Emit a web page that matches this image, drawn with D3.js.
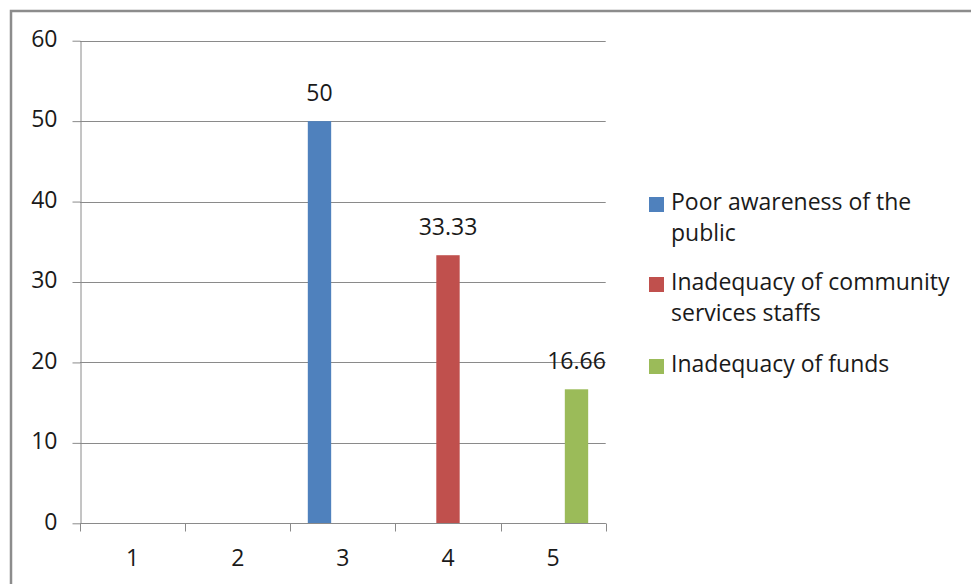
<!DOCTYPE html>
<html>
<head>
<meta charset="utf-8">
<script src="https://cdn.jsdelivr.net/npm/d3@7"></script>
<style>
  html, body { margin: 0; padding: 0; background: #fff; }
  svg { display: block; }
  text { font-family: "Open Sans", "Noto Sans", sans-serif; fill: #1a1a1a; }
</style>
</head>
<body>
<svg id="chart" width="971" height="584"></svg>
<script>
// Category labels on the x axis
const categories = ["1", "2", "3", "4", "5"];
// Series names (legend) and their colours
const seriesNames = [
  "Poor awareness of the public",
  "Inadequacy of community services staffs",
  "Inadequacy of funds"
];
const seriesColors = ["#4F81BD", "#C0504D", "#9BBB59"];
// Values per series, one per category (null = no bar)
const poorAwareness = [null, null, 50, null, null];
const inadequateStaff = [null, null, null, 33.33, null];
const inadequateFunds = [null, null, null, null, 16.66];
const seriesValues = [poorAwareness, inadequateStaff, inadequateFunds];
// Value labels as shown above the bars
const valueLabels = [
  [null, null, "50", null, null],
  [null, null, null, "33.33", null],
  [null, null, null, null, "16.66"]
];
// Y axis ticks
const yTicks = [0, 10, 20, 30, 40, 50, 60];

const svg = d3.select("#chart");
const fontSize = 23;

// Outer chart frame (its right and bottom edges fall off the page)
svg.append("rect")
  .attr("x", 11).attr("y", 11)
  .attr("width", 1000).attr("height", 700)
  .attr("fill", "none")
  .attr("stroke", "#8c8c8c")
  .attr("stroke-width", 2.5);

const plot = { left: 80, right: 605.7, top: 40.7, bottom: 523.3 };

const y = d3.scaleLinear().domain([0, 60]).range([plot.bottom, plot.top]);
const x0 = d3.scaleBand().domain(categories).range([plot.left, plot.right]).padding(0);
const x1 = d3.scaleBand().domain(d3.range(seriesNames.length))
  .range([0, x0.bandwidth()]).paddingInner(0).paddingOuter(0.75);

// Horizontal gridlines
svg.append("g")
  .selectAll("line")
  .data(yTicks)
  .join("line")
  .attr("x1", plot.left).attr("x2", plot.right)
  .attr("y1", d => Math.round(y(d)) + 0.5).attr("y2", d => Math.round(y(d)) + 0.5)
  .attr("stroke", "#8a8a8a").attr("stroke-width", 1);

// Y axis
const yAxis = svg.append("g")
  .attr("transform", `translate(${plot.left + 0.5},0)`)
  .call(d3.axisLeft(y).tickValues(yTicks).tickSize(8).tickPadding(15).tickSizeOuter(0));
yAxis.select(".domain").attr("stroke", "#8a8a8a");
yAxis.selectAll(".tick line").attr("stroke", "#8a8a8a");
yAxis.selectAll(".tick text")
  .style("font-family", '"Open Sans", "Noto Sans", sans-serif')
  .style("font-size", fontSize + "px").attr("fill", "#1a1a1a")
  .attr("dy", "0.25em");

// Bars
seriesValues.forEach((vals, si) => {
  const rows = categories.map((c, ci) => ({ c, v: vals[ci], label: valueLabels[si][ci] }))
    .filter(d => d.v != null);
  const g = svg.append("g");
  g.selectAll("rect")
    .data(rows)
    .join("rect")
    .attr("x", d => x0(d.c) + x1(si))
    .attr("width", x1.bandwidth())
    .attr("y", d => y(d.v))
    .attr("height", d => y(0) - y(d.v))
    .attr("fill", seriesColors[si]);
  g.selectAll("text")
    .data(rows)
    .join("text")
    .attr("x", d => x0(d.c) + x1(si) + x1.bandwidth() / 2)
    .attr("y", d => y(d.v) - 20)
    .attr("text-anchor", "middle")
    .style("font-size", fontSize + "px")
    .text(d => d.label);
});

// X axis with ticks at category boundaries
const xAxisG = svg.append("g").attr("transform", `translate(0,${Math.round(plot.bottom) + 0.5})`);
xAxisG.append("line")
  .attr("x1", plot.left).attr("x2", plot.right)
  .attr("stroke", "#8a8a8a");
const bounds = categories.map(c => x0(c)).concat([plot.right]);
xAxisG.selectAll("line.tk")
  .data(bounds)
  .join("line").attr("class", "tk")
  .attr("x1", d => Math.round(d) + 0.5).attr("x2", d => Math.round(d) + 0.5)
  .attr("y1", 0).attr("y2", 8)
  .attr("stroke", "#8a8a8a");
xAxisG.selectAll("text")
  .data(categories)
  .join("text")
  .attr("x", d => x0(d) + x0.bandwidth() / 2)
  .attr("y", 42)
  .attr("text-anchor", "middle")
  .style("font-size", fontSize + "px")
  .text(d => d);

// Legend with wrapped labels
const legend = svg.append("g");
const legendX = 649, textX = 671, maxW = 286;
const firstBaselines = [210, 290, 372];
const lineH = 31;
seriesNames.forEach((name, i) => {
  const base = firstBaselines[i];
  legend.append("rect")
    .attr("x", legendX).attr("y", base - 13)
    .attr("width", 15).attr("height", 15)
    .attr("fill", seriesColors[i]);
  const t = legend.append("text")
    .attr("x", textX).attr("y", base)
    .style("font-size", fontSize + "px");
  const words = name.split(" ");
  let line = [], lineNo = 0;
  let tspan = t.append("tspan").attr("x", textX).attr("y", base);
  words.forEach(w => {
    line.push(w);
    tspan.text(line.join(" "));
    if (tspan.node().getComputedTextLength() > maxW && line.length > 1) {
      line.pop();
      tspan.text(line.join(" "));
      line = [w];
      lineNo++;
      tspan = t.append("tspan").attr("x", textX).attr("y", base + lineNo * lineH).text(w);
    }
  });
});
</script>
</body>
</html>
